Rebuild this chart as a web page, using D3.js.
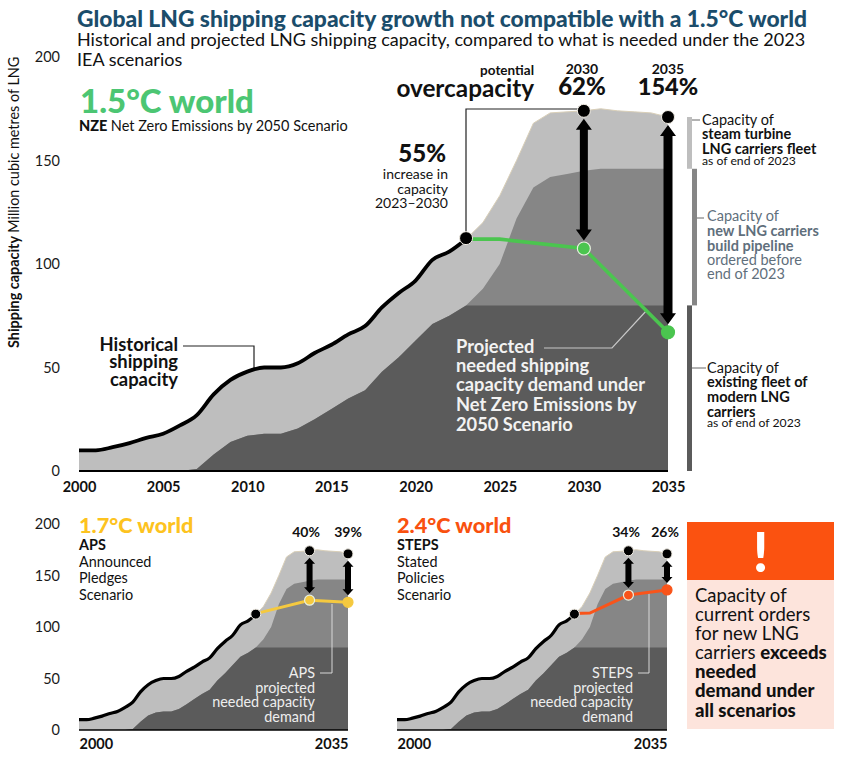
<!DOCTYPE html>
<html>
<head>
<meta charset="utf-8">
<script src="https://cdn.jsdelivr.net/npm/d3@7"></script>
<style>
  html, body { margin: 0; padding: 0; background: #fff; }
  text { font-family: Lato, "Open Sans", sans-serif; }
</style>
</head>
<body>
<svg id="chart" width="844" height="761"></svg>
<script>
// values (million cubic metres of LNG)
const years = d3.range(2000, 2036);
const historyYears = d3.range(2000, 2024);
const history = [10, 10, 11.5, 13.5, 16, 18, 22, 27, 37, 44, 48, 50, 50, 52, 57, 61, 66, 70, 79, 86, 92, 102, 106, 112];
const totalCapacity = [10, 10, 11.5, 13.5, 16, 18, 22, 27, 37, 44, 48, 50, 50, 52, 57, 61, 66, 70, 79, 86, 92, 102, 106, 112,
  120, 133, 150, 168, 173, 173.5, 174, 175, 174, 173.5, 173, 171];
const pipelineCapacity = [0, 0, 0, 0, 0, 0, 0, 1, 8, 14, 17, 18, 18, 20.5, 25, 30, 35, 39, 48, 55, 63, 71, 75, 80,
  88, 100, 122, 137, 142, 143.5, 145, 146, 146, 146, 146, 146];
const modernCapacity = [0, 0, 0, 0, 0, 0, 0, 1, 8, 14, 17, 18, 18, 20.5, 25, 30, 35, 39, 48, 55, 63, 71, 75, 80,
  80, 80, 80, 80, 80, 80, 80, 80, 80, 80, 80, 80];

const nzeYears = [2023, 2025, 2030, 2035];
const nzeValues = [112, 112, 107.5, 67];
const apsYears = [2023, 2030, 2035];
const apsValues = [113, 126, 124];
const stepsYears = [2023, 2025, 2030, 2035];
const stepsValues = [113, 113.5, 131, 136];

const yTicks = [0, 50, 100, 150, 200];
const xTicksMain = [2000, 2005, 2010, 2015, 2020, 2025, 2030, 2035];
const xTicksSmall = [2000, 2035];

const svg = d3.select("#chart");

const colDark = "#5b5b5b", colMid = "#868686", colLight = "#bebebe";
const green = "#4bc54f", yellow = "#f5c93f", orange = "#f9541a";

// one text block, each line is a list of [string, weight] runs
function textBlock(x, lines, opt) {
  lines.forEach(function(l) {
    const t = svg.append("text")
      .attr("x", x).attr("y", l.y)
      .attr("text-anchor", opt.anchor || "start")
      .attr("fill", l.color || opt.color || "#111")
      .attr("font-size", l.size || opt.size);
    l.runs.forEach(function(r) {
      t.append("tspan").attr("font-weight", r[1] || 400).text(r[0]);
    });
  });
}

function arrow(g, x, y1, y2, w, headW, headH) {
  const p = d3.path();
  p.moveTo(x, y1);
  p.lineTo(x + headW / 2, y1 + headH);
  p.lineTo(x + w / 2, y1 + headH);
  p.lineTo(x + w / 2, y2 - headH);
  p.lineTo(x + headW / 2, y2 - headH);
  p.lineTo(x, y2);
  p.lineTo(x - headW / 2, y2 - headH);
  p.lineTo(x - w / 2, y2 - headH);
  p.lineTo(x - w / 2, y1 + headH);
  p.lineTo(x - headW / 2, y1 + headH);
  p.closePath();
  g.append("path").attr("d", p.toString()).attr("fill", "#000");
}

function panel(o) {
  const x = d3.scaleLinear().domain([2000, 2035]).range(o.xRange);
  const y = d3.scaleLinear().domain([0, 200]).range(o.yRange);
  const g = svg.append("g");

  function layer(vals, fill) {
    const area = d3.area()
      .x(function(d) { return x(d); })
      .y0(y(0))
      .y1(function(d, i) { return y(vals[i]); });
    g.append("path").attr("d", area(years)).attr("fill", fill);
  }
  layer(totalCapacity, colLight);
  layer(pipelineCapacity, colMid);
  layer(modernCapacity, colDark);

  // thin tan edge on the projected part of the total
  const edge = d3.line()
    .x(function(d) { return x(d); })
    .y(function(d) { return y(totalCapacity[d - 2000]); });
  g.append("path").attr("d", edge(d3.range(2023, 2036)))
    .attr("fill", "none").attr("stroke", "#d9cfb8").attr("stroke-width", 1);

  // baseline
  g.append("line").attr("x1", x(2000)).attr("x2", x(2035))
    .attr("y1", y(0)).attr("y2", y(0))
    .attr("stroke", "#000").attr("stroke-width", o.baseW);

  if (o.showY) {
    const ax = svg.append("g").attr("transform", "translate(60,0)")
      .call(d3.axisLeft(y).tickValues(yTicks).tickSize(0).tickPadding(0));
    ax.select(".domain").remove();
    ax.selectAll("text").attr("font-size", 14.5).attr("fill", "#1a1a1a").attr("font-family", "Lato");
  }

  const xa = svg.append("g").attr("transform", "translate(0," + o.xAxisY + ")")
    .call(d3.axisBottom(x).tickValues(o.xTicks).tickFormat(d3.format("d")).tickSize(0).tickPadding(0));
  xa.select(".domain").remove();
  xa.selectAll("text").attr("font-size", 14.5).attr("font-weight", 700).attr("fill", "#111")
    .attr("font-family", "Lato").attr("y", 0).attr("dy", 0);
  if (o.xTicks.length === 2) {
    xa.selectAll("text").attr("text-anchor", function(d) { return d === 2000 ? "start" : "end"; });
  }

  o.leaders(g, x, y);

  // scenario line
  const sLine = d3.line()
    .x(function(d) { return x(d); })
    .y(function(d, i) { return y(o.sValues[i]); });
  g.append("path").attr("d", sLine(o.sYears))
    .attr("fill", "none").attr("stroke", o.color).attr("stroke-width", o.lineW);

  // history
  const hLine = d3.line()
    .x(function(d) { return x(d); })
    .y(function(d, i) { return y(history[i]); })
    .curve(d3.curveMonotoneX);
  g.append("path").attr("d", hLine(historyYears))
    .attr("fill", "none").attr("stroke", "#000").attr("stroke-width", o.histW)
    .attr("stroke-linejoin", "round");

  // arrows between the available capacity and the needed demand
  const v30 = o.sValues[o.sYears.indexOf(2030)], v35 = o.sValues[o.sYears.indexOf(2035)];
  const tot30 = totalCapacity[30], tot35 = totalCapacity[35];
  arrow(g, x(2030), y(tot30) + o.arrowGap, y(v30) - o.arrowGap, o.arrow30[0], o.arrow30[1], o.arrow30[2]);
  arrow(g, x(2035), y(tot35) + o.arrowGap, y(v35) - o.arrowGap, o.arrow35[0], o.arrow35[1], o.arrow35[2]);

  // dots
  [[2023, 112.5], [2030, tot30], [2035, tot35]].forEach(function(d) {
    g.append("circle").attr("cx", x(d[0])).attr("cy", y(d[1])).attr("r", o.r)
      .attr("fill", "#000").attr("stroke", "#f3efe6").attr("stroke-width", 1);
  });
  [[2030, v30], [2035, v35]].forEach(function(d) {
    g.append("circle").attr("cx", x(d[0])).attr("cy", y(d[1])).attr("r", o.r)
      .attr("fill", o.color).attr("stroke", d[0] === 2030 ? "#e8f0e0" : o.color).attr("stroke-width", 1.2);
  });
  return { x: x, y: y };
}

// main panel
const main = panel({
  xRange: [79, 668], yRange: [471, 57], showY: true, xTicks: xTicksMain, xAxisY: 492,
  sYears: nzeYears, sValues: nzeValues, color: green, lineW: 3.6, histW: 3.8, baseW: 2,
  r: 6.5, arrowGap: 8, arrow30: [8, 16, 11], arrow35: [9, 16, 11],
  leaders: function(g, x, y) {
    g.append("path").attr("d", "M466," + y(112) + "V109H" + x(2030))
      .attr("fill", "none").attr("stroke", "#222").attr("stroke-width", 1.2);
    g.append("path").attr("d", "M183,346H254V" + y(49.5))
      .attr("fill", "none").attr("stroke", "#222").attr("stroke-width", 1.2);
    g.append("path").attr("d", "M544,348H612L647,310")
      .attr("fill", "none").attr("stroke", "#c8c8c8").attr("stroke-width", 1.2);
  }
});

// capacity range bars beside the main panel
const yM = main.y;
[[totalCapacity[35], pipelineCapacity[35], colLight, 687], [pipelineCapacity[35], modernCapacity[35], colMid, 692], [modernCapacity[35], 0, colDark, 687]]
  .forEach(function(b) {
    svg.append("rect").attr("x", b[3]).attr("width", 5)
      .attr("y", yM(b[0])).attr("height", yM(b[1]) - yM(b[0])).attr("fill", b[2]);
  });
[[692, 700, 120], [697, 704, 218], [692, 706, 368]].forEach(function(t) {
  svg.append("line").attr("x1", t[0]).attr("x2", t[1]).attr("y1", t[2]).attr("y2", t[2])
    .attr("stroke", "#666").attr("stroke-width", 1);
});

// small panels
panel({
  xRange: [79, 348], yRange: [730, 524], showY: true, xTicks: xTicksSmall, xAxisY: 749,
  sYears: apsYears, sValues: apsValues, color: yellow, lineW: 3, histW: 3.2, baseW: 1.5,
  r: 5, arrowGap: 7, arrow30: [6, 11, 6], arrow35: [6, 11, 6],
  leaders: function(g) {
    g.append("path").attr("d", "M320,673H332V604")
      .attr("fill", "none").attr("stroke", "#d8d8d8").attr("stroke-width", 1);
  }
});
panel({
  xRange: [397, 667], yRange: [730, 524], showY: false, xTicks: xTicksSmall, xAxisY: 749,
  sYears: stepsYears, sValues: stepsValues, color: orange, lineW: 3, histW: 3.2, baseW: 1.5,
  r: 5, arrowGap: 7, arrow30: [6, 11, 6], arrow35: [6, 11, 6],
  leaders: function(g) {
    g.append("path").attr("d", "M638,673H649V593")
      .attr("fill", "none").attr("stroke", "#d8d8d8").attr("stroke-width", 1);
  }
});

// title block
textBlock(77, [{ y: 27, size: 22.8, color: "#1b4d6b", runs: [["Global LNG shipping capacity growth not compatible with a 1.5°C world", 900]] }], {});
textBlock(77, [
  { y: 46, runs: [["Historical and projected LNG shipping capacity, compared to what is needed under the 2023"]] },
  { y: 66, runs: [["IEA scenarios"]] }
], { size: 18 });

// y axis title
svg.append("text").attr("transform", "translate(19,348) rotate(-90)").attr("font-size", 14.4).attr("fill", "#111")
  .call(function(t) {
    t.append("tspan").attr("font-weight", 700).text("Shipping capacity ");
    t.append("tspan").text("Million cubic metres of LNG");
  });

// main panel texts
textBlock(80, [{ y: 113, size: 33, color: "#4cc673", runs: [["1.5°C world", 900]] }], {});
textBlock(79, [{ y: 131, size: 14.5, runs: [["NZE ", 900], ["Net Zero Emissions by 2050 Scenario"]] }], {});

textBlock(534, [
  { y: 75, size: 13.5, runs: [["potential", 700]] },
  { y: 97, size: 24.3, runs: [["overcapacity", 700]] }
], { anchor: "end" });
textBlock(582, [
  { y: 74, size: 14, runs: [["2030", 700]] },
  { y: 95, size: 24, runs: [["62%", 900]] }
], { anchor: "middle" });
textBlock(668, [
  { y: 74, size: 14, runs: [["2035", 700]] },
  { y: 95, size: 23.5, runs: [["154%", 900]] }
], { anchor: "middle" });

textBlock(446, [{ y: 162, size: 24, runs: [["55%", 900]] }], { anchor: "end" });
textBlock(448, [
  { y: 179, runs: [["increase in"]] },
  { y: 194, runs: [["capacity"]] },
  { y: 208, runs: [["2023–2030"]] }
], { anchor: "end", size: 14 });

textBlock(178, [
  { y: 351, runs: [["Historical", 700]] },
  { y: 368, runs: [["shipping", 700]] },
  { y: 386, runs: [["capacity", 700]] }
], { anchor: "end", size: 18.4 });

textBlock(456, [
  { y: 353, runs: [["Projected", 700]] },
  { y: 372, runs: [["needed shipping", 700]] },
  { y: 391, runs: [["capacity demand under", 700]] },
  { y: 411, runs: [["Net Zero Emissions by", 700]] },
  { y: 431, runs: [["2050 Scenario", 700]] }
], { size: 18.3, color: "#f2f2f2" });

// fleet notes
textBlock(702, [
  { y: 125, runs: [["Capacity of"]] },
  { y: 139, runs: [["steam turbine", 700]] },
  { y: 154, runs: [["LNG carriers fleet", 700]] },
  { y: 165, size: 12.2, runs: [["as of end of 2023"]] }
], { size: 14.5 });
textBlock(707, [
  { y: 221, runs: [["Capacity of"]] },
  { y: 236, runs: [["new LNG carriers", 700]] },
  { y: 251, runs: [["build pipeline", 700]] },
  { y: 265, runs: [["ordered before"]] },
  { y: 279, runs: [["end of 2023"]] }
], { size: 14.5, color: "#5f6f7c" });
textBlock(707, [
  { y: 373, runs: [["Capacity of"]] },
  { y: 387, runs: [["existing fleet of", 700]] },
  { y: 402, runs: [["modern LNG", 700]] },
  { y: 417, runs: [["carriers", 700]] },
  { y: 427, size: 12.2, runs: [["as of end of 2023"]] }
], { size: 14.5 });

// small panel texts
textBlock(79, [{ y: 533, size: 21.7, color: "#fdc31f", runs: [["1.7°C world", 900]] }], {});
textBlock(79, [
  { y: 550, runs: [["APS", 700]] },
  { y: 567, runs: [["Announced"]] },
  { y: 583, runs: [["Pledges"]] },
  { y: 600, runs: [["Scenario"]] }
], { size: 14.4 });
textBlock(397, [{ y: 533, size: 21.7, color: "#f9510f", runs: [["2.4°C world", 900]] }], {});
textBlock(397, [
  { y: 550, runs: [["STEPS", 700]] },
  { y: 567, runs: [["Stated"]] },
  { y: 583, runs: [["Policies"]] },
  { y: 600, runs: [["Scenario"]] }
], { size: 14.4 });

[[306, "40%"], [348, "39%"], [626, "34%"], [665, "26%"]].forEach(function(p) {
  textBlock(p[0], [{ y: 537, runs: [[p[1], 700]] }], { anchor: "middle", size: 14 });
});

textBlock(315, [
  { y: 678, runs: [["APS"]] },
  { y: 693, runs: [["projected"]] },
  { y: 707, runs: [["needed capacity"]] },
  { y: 722, runs: [["demand"]] }
], { anchor: "end", size: 14.4, color: "#eeeeee" });
textBlock(633, [
  { y: 678, runs: [["STEPS"]] },
  { y: 693, runs: [["projected"]] },
  { y: 707, runs: [["needed capacity"]] },
  { y: 722, runs: [["demand"]] }
], { anchor: "end", size: 14.4, color: "#eeeeee" });

// warning box
svg.append("rect").attr("x", 687).attr("y", 522).attr("width", 147).attr("height", 207).attr("fill", "#fde4dc");
svg.append("rect").attr("x", 687).attr("y", 522).attr("width", 147).attr("height", 58).attr("fill", "#fb5210");
textBlock(760.5, [{ y: 572, size: 55, color: "#fff", runs: [["!", 900]] }], { anchor: "middle" });
textBlock(695, [
  { y: 602, runs: [["Capacity of"]] },
  { y: 621, runs: [["current orders"]] },
  { y: 640, runs: [["for new LNG"]] },
  { y: 659, runs: [["carriers "], ["exceeds", 900]] },
  { y: 678, runs: [["needed", 900]] },
  { y: 697, runs: [["demand under", 900]] },
  { y: 717, runs: [["all scenarios", 900]] }
], { size: 18.5 });
</script>
</body>
</html>
